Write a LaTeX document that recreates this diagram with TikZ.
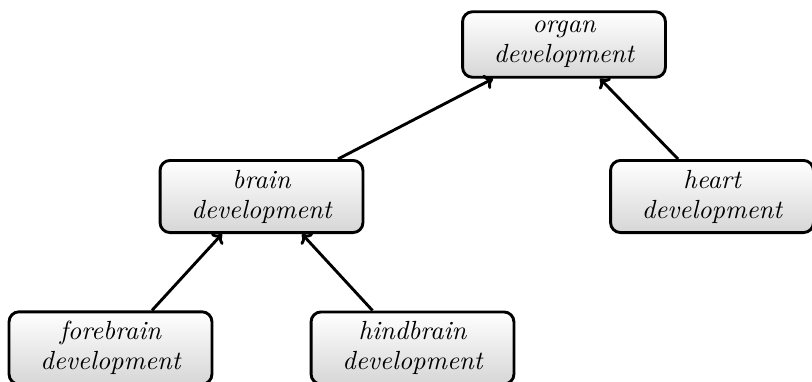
\documentclass[tikz,border=0pt]{standalone}
\usetikzlibrary{calc,arrows.meta}
\begin{document}
\begin{tikzpicture}[x=0.381pt,y=-0.381pt,
  termbox/.style={draw=black, line width=1.1pt, rounded corners=3.8pt,
    top color=white, bottom color=black!16,
    minimum width=77.3pt, inner xsep=2pt, inner ysep=3.6pt,
    align=center, font=\itshape\fontsize{10}{11.4}\selectfont},
  isa/.style={line width=1.1pt, -{To[length=3.2pt,width=6pt]}}]
  \useasboundingbox (0,0) rectangle (812,381);

  \node[termbox] (organ) at (564,44.5) {organ\\development};
  \node[termbox] (brain) at (261.5,196.5) {brain\\development};
  \node[termbox] (heart) at (712,196.5) {heart\\development};
  \node[termbox] (fore) at (110.5,348) {forebrain\\development};
  \node[termbox] (hind) at (412.5,348) {hindbrain\\development};

  \draw[isa] ($(brain.north)+(76.5,0)$) -- ($(organ.south)+(-71,0)$);
  \draw[isa] ($(heart.north)+(-34,0)$) -- ($(organ.south)+(36,0)$);
  \draw[isa] ($(fore.north)+(41.5,0)$) -- ($(brain.south)+(-39.5,0)$);
  \draw[isa] ($(hind.north)+(-40,0)$) -- ($(brain.south)+(40.5,0)$);
\end{tikzpicture}
\end{document}
